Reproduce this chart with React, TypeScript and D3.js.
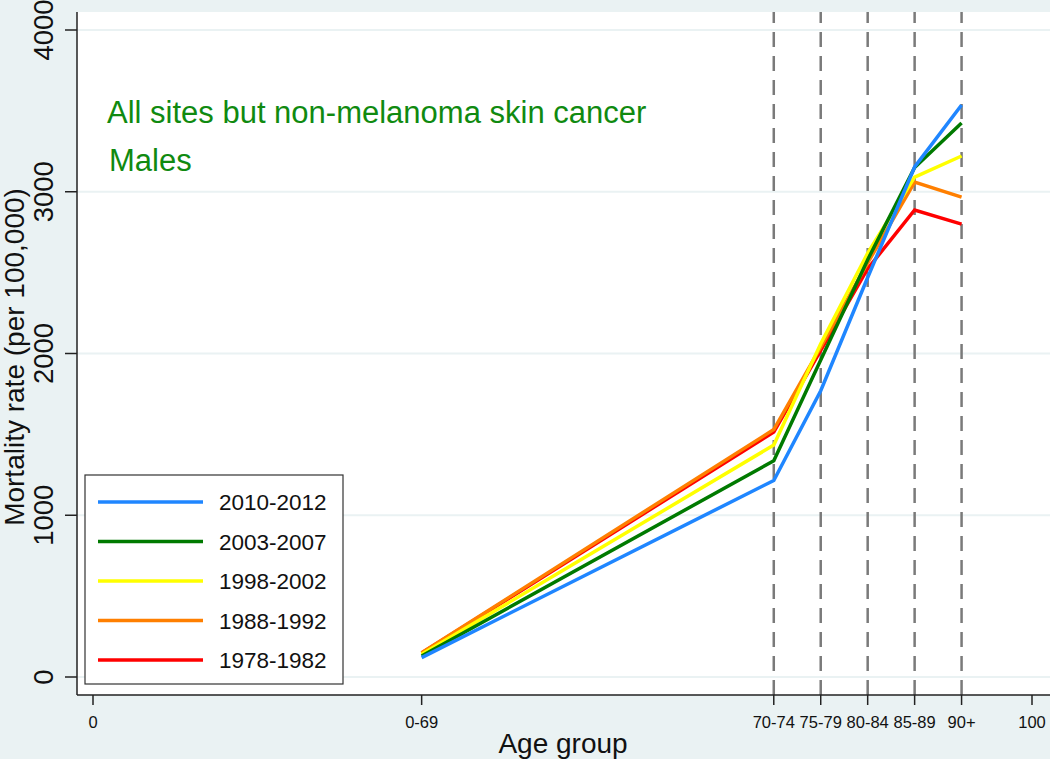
import React from 'react';
import * as d3 from 'd3';

// Age groups, placed at their x value on a 0-100 scale
const ageGroups = ['0-69', '70-74', '75-79', '80-84', '85-89', '90+'];
const agePositions = [35, 72.5, 77.5, 82.5, 87.5, 92.5];

const periods = ['2010-2012', '2003-2007', '1998-2002', '1988-1992', '1978-1982'];
const periodColors = ['#1f86ff', '#007a00', '#ffff00', '#ff7f00', '#ff0000'];

// mortality rate per 100,000 by age group
const rates2010 = [120, 1215, 1770, 2470, 3153, 3536];
const rates2003 = [130, 1337, 1960, 2580, 3150, 3425];
const rates1998 = [140, 1434, 2060, 2620, 3091, 3221];
const rates1988 = [150, 1530, 2040, 2560, 3060, 2967];
const rates1978 = [148, 1515, 2020, 2524, 2887, 2800];
const seriesValues = [rates2010, rates2003, rates1998, rates1988, rates1978];

const yTicks = [0, 1000, 2000, 3000, 4000];
const xEndTicks = [0, 100];

const W = 1050;
const H = 759;
const plot = { left: 77, top: 12, right: 1050, bottom: 695 };

const App: React.FC = () => {
  const x = d3.scaleLinear().domain([0, 100]).range([93, 1032]);
  const y = d3.scaleLinear().domain([0, 4000]).range([677, 30]);

  const line = d3
    .line<number>()
    .x((_, i) => x(agePositions[i]))
    .y((d) => y(d));

  const font = 'Arial, "Liberation Sans", sans-serif';

  const legendY = (i: number) => 502 + i * 39.5;

  return (
    <svg width={W} height={H} style={{ display: 'block', position: 'absolute', left: 0, top: 0 }} fontFamily={font}>
      <rect x={0} y={0} width={W} height={H} fill="#eaf2f3" />
      <rect x={plot.left} y={plot.top} width={plot.right - plot.left} height={plot.bottom - plot.top} fill="#ffffff" />

      {/* grid */}
      {yTicks.map((t) => (
        <line key={'g' + t} x1={plot.left} x2={plot.right} y1={y(t)} y2={y(t)} stroke="#eaf2f3" strokeWidth={2} />
      ))}

      {/* dashed reference lines at age groups 70+ */}
      {agePositions.slice(1).map((p) => (
        <line
          key={'d' + p}
          x1={x(p)}
          x2={x(p)}
          y1={plot.bottom}
          y2={plot.top}
          stroke="#7a7a7a"
          strokeWidth={2.5}
          strokeDasharray="15 9"
        />
      ))}

      {/* series */}
      {seriesValues.map((vals, si) => (
        <path
          key={periods[si]}
          d={line(vals) || ''}
          fill="none"
          stroke={periodColors[si]}
          strokeWidth={3.5}
          strokeLinejoin="miter"
        />
      )).reverse()}

      {/* axes */}
      <line x1={plot.left} x2={plot.left} y1={plot.top} y2={plot.bottom} stroke="#222" strokeWidth={1.5} />
      <line x1={plot.left} x2={plot.right} y1={plot.bottom} y2={plot.bottom} stroke="#222" strokeWidth={1.5} />

      {yTicks.map((t) => (
        <g key={'yt' + t}>
          <line x1={plot.left - 12} x2={plot.left} y1={y(t)} y2={y(t)} stroke="#222" strokeWidth={1.5} />
          <text
            transform={`translate(53,${y(t)}) rotate(-90)`}
            textAnchor="middle"
            fontSize={27.5}
            fill="#111"
          >
            {t}
          </text>
        </g>
      ))}

      {xEndTicks.map((t) => (
        <g key={'xe' + t}>
          <line x1={x(t)} x2={x(t)} y1={plot.bottom} y2={plot.bottom + 10} stroke="#222" strokeWidth={1.5} />
          <text x={x(t)} y={728} textAnchor="middle" fontSize={16.5} fill="#111">
            {t}
          </text>
        </g>
      ))}
      {ageGroups.map((g, i) => (
        <g key={'xa' + g}>
          <line
            x1={x(agePositions[i])}
            x2={x(agePositions[i])}
            y1={plot.bottom}
            y2={plot.bottom + 10}
            stroke="#222"
            strokeWidth={1.5}
          />
          <text x={x(agePositions[i])} y={728} textAnchor="middle" fontSize={16.5} fill="#111">
            {g}
          </text>
        </g>
      ))}

      <text x={563} y={753} textAnchor="middle" fontSize={28} fill="#111">
        Age group
      </text>
      <text transform="translate(24,357) rotate(-90)" textAnchor="middle" fontSize={28} fill="#111">
        Mortality rate (per 100,000)
      </text>

      {/* annotation */}
      <text x={107} y={123} fontSize={31} fill="#108a10">
        All sites but non-melanoma skin cancer
      </text>
      <text x={109} y={171} fontSize={31} fill="#108a10">
        Males
      </text>

      {/* legend */}
      <rect x={85} y={475} width={258} height={209} fill="#ffffff" stroke="#333" strokeWidth={1.2} />
      {periods.map((p, i) => (
        <g key={'lg' + p}>
          <line x1={98} x2={203} y1={legendY(i)} y2={legendY(i)} stroke={periodColors[i]} strokeWidth={3.5} />
          <text x={219} y={legendY(i) + 8} fontSize={22.5} fill="#111">
            {p}
          </text>
        </g>
      ))}
    </svg>
  );
};

export default App;
